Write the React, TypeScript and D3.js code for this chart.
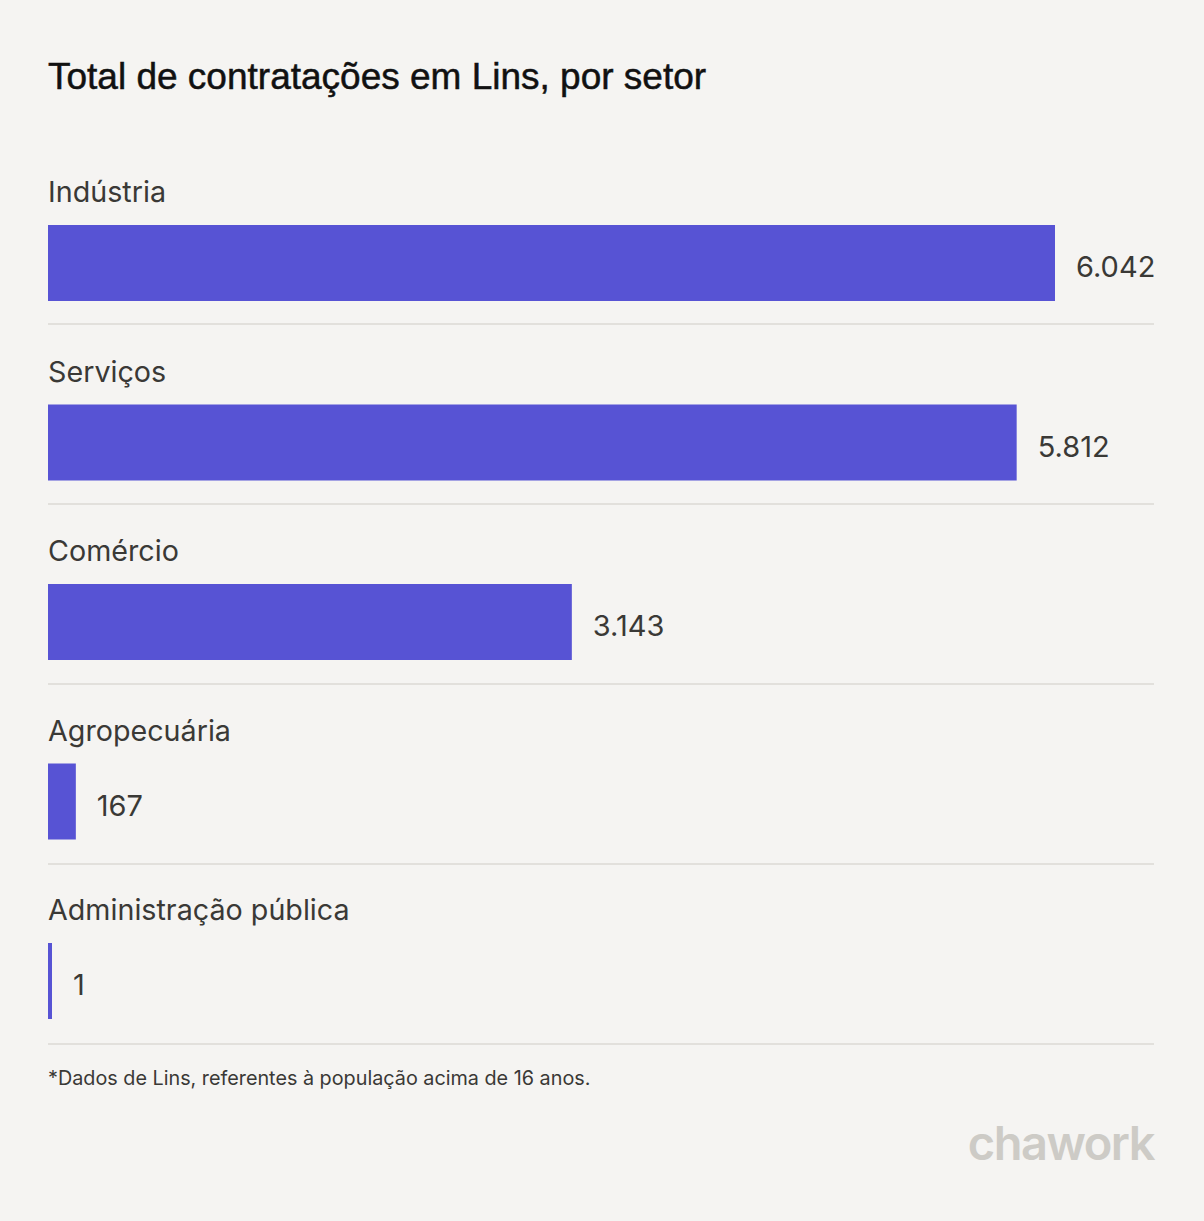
import React from "react";
import * as d3 from "d3";

const categories = ["Indústria", "Serviços", "Comércio", "Agropecuária", "Administração pública"];
const values = [6042, 5812, 3143, 167, 1];
const valueLabels = ["6.042", "5.812", "3.143", "167", "1"];
const title = "Total de contratações em Lins, por setor";
const footnote = "*Dados de Lins, referentes à população acima de 16 anos.";

const W = 1204;
const H = 1221;
const left = 48;
const rightLine = 1154;
const rowTop = 150;
const rowStep = 179.5;
const sepStep = 180;

export default function App() {
  const x = d3.scaleLinear().domain([0, 6042]).range([0, 1007]);
  const rows = d3.range(categories.length);
  const font = "Inter, 'Noto Sans', sans-serif";
  return (
    <div style={{ position: "absolute", left: 0, top: 0 }}>
      <svg width={W} height={H} style={{ display: "block" }}>
        <rect x={0} y={0} width={W} height={H} fill="#f5f4f2" />
        <text x={left} y={89} fontFamily="'Liberation Sans', Arial, sans-serif" fontSize={37} fill="#111" stroke="#111" strokeWidth={0.5}>
          {title}
        </text>
        {rows.map((i) => {
          const y0 = rowTop + i * rowStep;
          const barY = y0 + 75;
          const w = Math.max(4, x(values[i]));
          return (
            <g key={i}>
              <text x={left} y={y0 + 52} fontFamily={font} fontSize={28.7} fill="#3a3936">
                {categories[i]}
              </text>
              <rect x={left} y={barY} width={w} height={76} fill="#5753d4" />
              <text x={left + w + 21} y={barY + 52} fontFamily={font} fontSize={29} fill="#3a3936">
                {valueLabels[i]}
              </text>
              <line x1={left} x2={rightLine} y1={rowTop + 174 + i * sepStep} y2={rowTop + 174 + i * sepStep} stroke="#e2e0dc" strokeWidth={2} />
            </g>
          );
        })}
        <text x={left} y={1085} fontFamily={font} fontSize={19.8} fill="#3a3936">
          {footnote}
        </text>
        <text x={rightLine} y={1160} textAnchor="end" fontFamily={font} fontWeight={600} fontSize={47} letterSpacing={-1.5} fill="#cdcbc6">
          chawork
        </text>
      </svg>
    </div>
  );
}
